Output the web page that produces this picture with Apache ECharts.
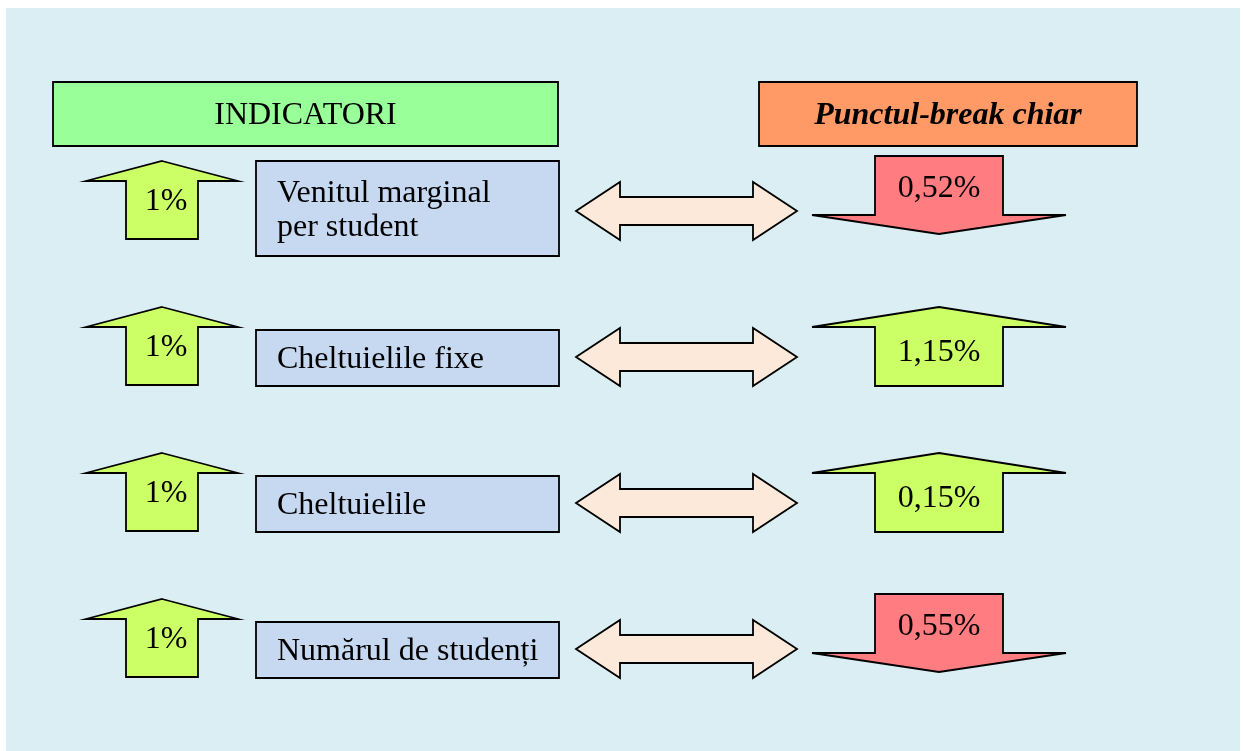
<!DOCTYPE html>
<html>
<head>
<meta charset="utf-8">
<script src="https://cdn.jsdelivr.net/npm/echarts@6/dist/echarts.min.js"></script>
<style>
  html, body { margin: 0; padding: 0; background: #ffffff; }
  #chart { width: 1243px; height: 751px; }
</style>
</head>
<body>
<div id="chart"></div>
<script>
// ---- data ----
const headers = ['INDICATORI', 'Punctul-break chiar'];
const indicators = ['Venitul marginal\nper student', 'Cheltuielile fixe', 'Cheltuielile', 'Numărul de studenți'];
const inputChange = [1, 1, 1, 1];                 // % change of each indicator
const breakEvenChange = [-0.52, 1.15, 0.15, -0.55]; // resulting % change of break-even point

// ---- helpers ----
function fmtPct(v) {
  const a = Math.abs(v);
  const s = Number.isInteger(a) ? String(a) : a.toFixed(2);
  return s.replace('.', ',') + '%';
}

const FONT = 'Liberation Serif';
const FS = 32;
const STROKE = '#000000';
const LW = 1.8;

const C = {
  bg: '#DAEEF3',
  headLeft: '#99FF99',
  headRight: '#FF9966',
  up: '#CCFF66',
  down: '#FF7C80',
  box: '#C6D9F1',
  link: '#FDE9D9'
};

function txt(text, x, y, align, vAlign, extra) {
  return {
    type: 'text',
    style: Object.assign({
      text: text, x: x, y: y,
      fill: '#000', fontFamily: FONT, fontSize: FS,
      align: align, verticalAlign: vAlign,
      textAlign: align, textVerticalAlign: vAlign,
      lineHeight: 34
    }, extra || {})
  };
}

function upArrow(cx, top, headH, bottom, headHalf, shaftHalf) {
  const hb = top + headH;
  return [[cx, top], [cx + headHalf, hb], [cx + shaftHalf, hb], [cx + shaftHalf, bottom],
          [cx - shaftHalf, bottom], [cx - shaftHalf, hb], [cx - headHalf, hb]];
}
function downArrow(cx, top, shaftH, tip, headHalf, shaftHalf) {
  const hl = top + shaftH;
  return [[cx - shaftHalf, top], [cx + shaftHalf, top], [cx + shaftHalf, hl], [cx + headHalf, hl],
          [cx, tip], [cx - headHalf, hl], [cx - shaftHalf, hl]];
}
function doubleArrow(x0, x1, cy, headLen, headHalf, shaftHalf) {
  return [[x0, cy], [x0 + headLen, cy - headHalf], [x0 + headLen, cy - shaftHalf],
          [x1 - headLen, cy - shaftHalf], [x1 - headLen, cy - headHalf], [x1, cy],
          [x1 - headLen, cy + headHalf], [x1 - headLen, cy + shaftHalf],
          [x0 + headLen, cy + shaftHalf], [x0 + headLen, cy + headHalf]];
}

const rows = indicators.map((name, i) => [0, i, inputChange[i], breakEvenChange[i]]);

function renderItem(params, api) {
  const i = api.value(1);
  const a = api.coord([0, i])[1]; // row anchor (tip of the left arrow)
  const name = indicators[i];
  const inV = api.value(2);
  const outV = api.value(3);
  const children = [];

  // left arrow (indicator change)
  const lcx = 162;
  const leftUp = inV >= 0;
  children.push({
    type: 'polygon',
    shape: { points: leftUp ? upArrow(lcx, a, 20, a + 78, 76, 36) : downArrow(lcx, a, 58, a + 78, 76, 36) },
    style: { fill: leftUp ? C.up : C.down, stroke: STROKE, lineWidth: LW, lineJoin: 'miter' }
  });
  children.push(txt(fmtPct(inV), lcx + 4, a + 41, 'center', 'middle'));

  // indicator box
  const lines = name.split('\n').length;
  const bTop = lines > 1 ? a : a + 23;
  const bBot = lines > 1 ? a + 95 : a + 79;
  children.push({
    type: 'rect',
    shape: { x: 256, y: bTop, width: 303, height: bBot - bTop },
    style: { fill: C.box, stroke: STROKE, lineWidth: LW }
  });
  children.push(txt(name, 277, (bTop + bBot) / 2 + 2, 'left', 'middle'));

  // double arrow link
  children.push({
    type: 'polygon',
    shape: { points: doubleArrow(576, 797, a + 50, 44, 29, 14) },
    style: { fill: C.link, stroke: STROKE, lineWidth: LW, lineJoin: 'miter' }
  });

  // result arrow (break-even change)
  const rcx = 939;
  if (outV >= 0) {
    children.push({
      type: 'polygon',
      shape: { points: upArrow(rcx, a, 20, a + 79, 127, 64) },
      style: { fill: C.up, stroke: STROKE, lineWidth: LW, lineJoin: 'miter' }
    });
    children.push(txt(fmtPct(outV), rcx, a + 46, 'center', 'middle'));
  } else {
    const t = a - 5;
    children.push({
      type: 'polygon',
      shape: { points: downArrow(rcx, t, 59, t + 78, 127, 64) },
      style: { fill: C.down, stroke: STROKE, lineWidth: LW, lineJoin: 'miter' }
    });
    children.push(txt(fmtPct(outV), rcx, t + 33, 'center', 'middle'));
  }

  return { type: 'group', children: children };
}

const chart = echarts.init(document.getElementById('chart'), null, { renderer: 'canvas' });

chart.setOption({
  backgroundColor: '#ffffff',
  animation: false,
  grid: { left: 0, right: 0, top: 88, bottom: 79 },
  xAxis: { type: 'value', min: 0, max: 1, show: false },
  yAxis: { type: 'category', data: indicators, inverse: true, show: false },
  graphic: [
    { type: 'rect', z: -10, shape: { x: 6, y: 8, width: 1234, height: 743 }, style: { fill: C.bg } },
    { type: 'rect', shape: { x: 53, y: 82, width: 505, height: 64 }, style: { fill: C.headLeft, stroke: STROKE, lineWidth: LW } },
    { type: 'text', style: { text: headers[0], x: 305.5, y: 116, fill: '#000', fontFamily: FONT, fontSize: FS,
        align: 'center', verticalAlign: 'middle', textAlign: 'center', textVerticalAlign: 'middle' } },
    { type: 'rect', shape: { x: 759, y: 82, width: 378, height: 64 }, style: { fill: C.headRight, stroke: STROKE, lineWidth: LW } },
    { type: 'text', style: { text: headers[1], x: 948, y: 116, fill: '#000', fontFamily: FONT, fontSize: FS,
        fontWeight: 'bold', fontStyle: 'italic',
        align: 'center', verticalAlign: 'middle', textAlign: 'center', textVerticalAlign: 'middle' } }
  ],
  series: [{
    type: 'custom',
    coordinateSystem: 'cartesian2d',
    renderItem: renderItem,
    data: rows,
    encode: { x: 0, y: 1 },
    clip: false,
    silent: true
  }]
});
</script>
</body>
</html>
